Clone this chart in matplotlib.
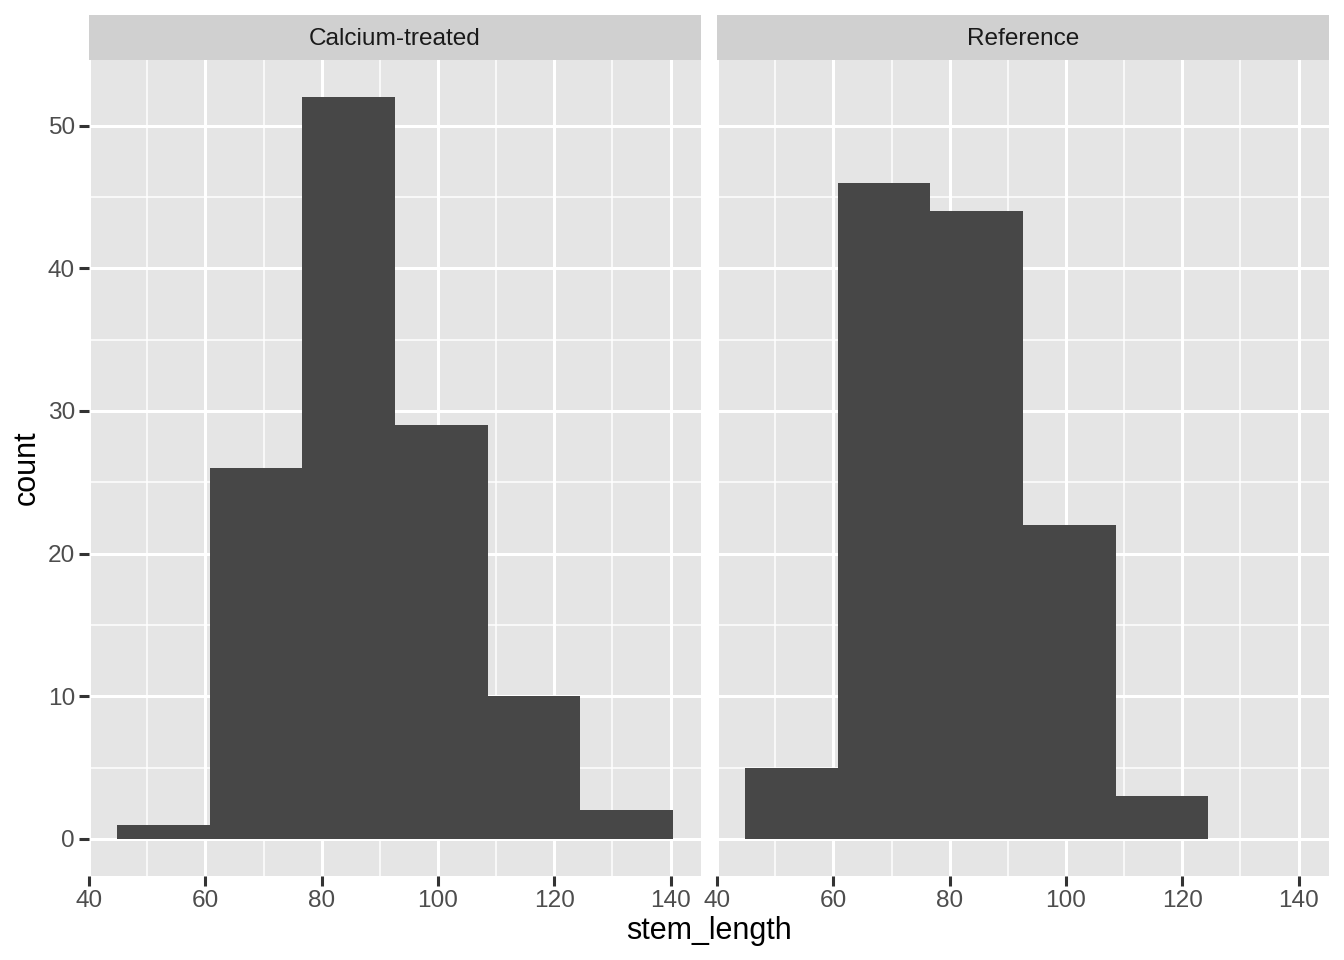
import numpy as np
import matplotlib.pyplot as plt

plt.rcParams['font.family'] = ['Liberation Sans', 'DejaVu Sans']

# histogram data
bin_edges = [44.75, 60.7, 76.65, 92.6, 108.55, 124.5, 140.45]
groups = ["Calcium-treated", "Reference"]
counts_calcium = [1, 26, 52, 29, 10, 2]
counts_reference = [5, 46, 44, 22, 3, 0]
x_ticks = [40, 60, 80, 100, 120, 140]
y_ticks = [0, 10, 20, 30, 40, 50]

W, H = 1344, 960
fig = plt.figure(figsize=(W / 200, H / 200), dpi=200)

panel_bg = "#E5E5E5"
strip_bg = "#D0D0D0"
bar_col = "#474747"

panels = [(89, 701), (717, 1329)]
top, bottom, strip_top = 60, 876, 15

edges = np.array(bin_edges)
widths = np.diff(edges)
xlo = edges[0] - 0.05 * (edges[-1] - edges[0])
xhi = edges[-1] + 0.05 * (edges[-1] - edges[0])
ymax = max(max(counts_calcium), max(counts_reference))
ylo, yhi = -0.05 * ymax, 1.05 * ymax

for i, (name, counts) in enumerate(zip(groups, [counts_calcium, counts_reference])):
    l, r = panels[i]
    ax = fig.add_axes([l / W, 1 - bottom / H, (r - l) / W, (bottom - top) / H])
    ax.set_facecolor(panel_bg)
    ax.bar(edges[:-1], counts, width=widths, align='edge', color=bar_col, linewidth=0, zorder=3)
    ax.set_xlim(xlo, xhi)
    ax.set_ylim(ylo, yhi)
    ax.set_xticks(x_ticks)
    ax.set_xticks([50, 70, 90, 110, 130], minor=True)
    ax.set_yticks(y_ticks)
    ax.set_yticks([5, 15, 25, 35, 45], minor=True)
    ax.grid(which='major', color='white', linewidth=1.1, zorder=1)
    ax.grid(which='minor', color='white', linewidth=0.55, zorder=1)
    ax.set_axisbelow(True)
    for s in ax.spines.values():
        s.set_visible(False)
    ax.tick_params(which='major', length=3.5, width=1.1, color='#333333',
                   labelsize=8.8, labelcolor='#4D4D4D', pad=1.5)
    ax.tick_params(which='minor', length=0)
    if i == 1:
        ax.tick_params(axis='y', which='major', length=0, labelleft=False)

    sax = fig.add_axes([l / W, 1 - top / H, (r - l) / W, (top - strip_top) / H])
    sax.set_facecolor(strip_bg)
    sax.set_xticks([])
    sax.set_yticks([])
    for s in sax.spines.values():
        s.set_visible(False)
    sax.text(0.5, 0.47, name, ha='center', va='center', fontsize=8.8,
             color='#1A1A1A', transform=sax.transAxes)

fig.text((89 + 1329) / 2 / W, 1 - 931 / H, "stem_length", ha='center', va='center', fontsize=11)
fig.text(27 / W, 1 - (top + bottom) / 2 / H, "count", ha='center', va='center',
         rotation=90, fontsize=11)

fig.savefig("out.png", dpi=200, facecolor='white')
